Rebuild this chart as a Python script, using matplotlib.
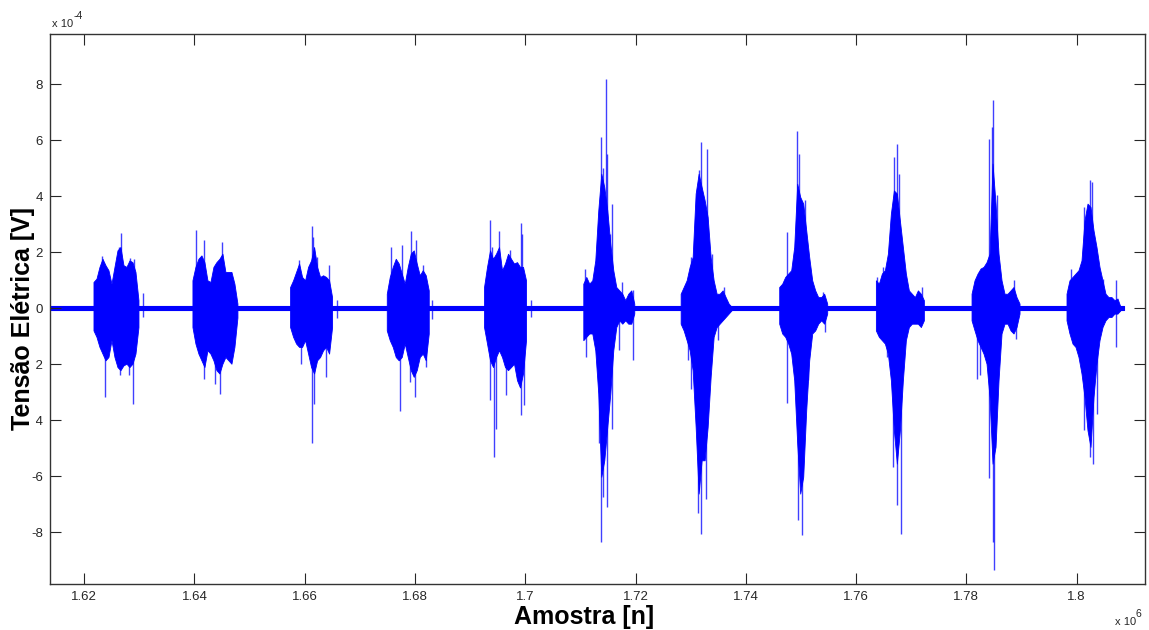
import numpy as np
import matplotlib
matplotlib.use('Agg')
import matplotlib.pyplot as plt
from matplotlib.ticker import FuncFormatter

# ── DADOS (tensão em unidades de 1e-4 V, eixo x em amostras) ──
inicio_rafaga = [1621686, 1639635, 1657348, 1674880, 1692520,
                 1710523, 1728182, 1746058, 1763590, 1780940, 1798164]
paso_env = 544          # amostras entre pontos da envoltória

env_sup = [
    [0.94, 1.06, 1.48, 1.77, 1.54, 1.36, 0.88, 1.48, 2.07, 2.19, 1.54, 1.48, 1.71, 1.65, 1.30, 0.29],
    [1.0, 1.48, 1.77, 1.89, 1.65, 1.0, 0.94, 1.48, 1.65, 1.77, 1.95, 1.30, 1.30, 1.30, 0.88, 0.17],
    [0.76, 1.0, 1.30, 1.60, 1.12, 1.0, 1.48, 1.71, 2.19, 1.48, 1.12, 1.18, 1.12, 1.0, 0.40],
    [0.52, 1.12, 1.48, 1.77, 1.60, 1.24, 0.88, 1.48, 1.95, 2.07, 1.60, 1.18, 1.36, 1.18, 0.64],
    [0.76, 1.48, 2.07, 1.77, 1.95, 2.19, 1.36, 1.60, 1.95, 1.77, 1.60, 1.65, 1.48, 1.48, 1.0],
    [0.88, 1.12, 0.88, 1.0, 1.71, 3.5, 4.81, 4.33, 3.5, 2.31, 1.36, 0.76, 0.64, 0.52, 0.29, 0.52, 0.64, 0.17],
    [0.52, 0.76, 1.0, 1.48, 1.83, 4.10, 4.81, 4.33, 3.86, 3.26, 1.83, 1.0, 0.52, 0.52, 0.64, 0.40, 0.17, 0.05],
    [0.76, 0.88, 1.12, 1.24, 1.36, 2.19, 4.45, 3.98, 3.74, 2.79, 1.83, 1.0, 0.64, 0.40, 0.40, 0.52, 0.17],
    [1.0, 0.88, 1.24, 1.36, 1.95, 3.38, 4.21, 4.10, 3.14, 2.19, 1.24, 0.64, 0.52, 0.40, 0.64, 0.52, 0.29],
    [0.52, 1.0, 1.24, 1.42, 1.48, 1.65, 1.95, 5.17, 3.74, 1.95, 1.0, 0.52, 0.52, 0.64, 0.76, 0.40, 0.17],
    [0.52, 1.0, 1.12, 1.24, 1.36, 1.71, 3.14, 3.74, 3.62, 2.79, 2.19, 1.48, 1.0, 0.52, 0.40, 0.40, 0.29, 0.35, 0.05],
]
env_inf = [
    [-0.79, -1.02, -1.38, -1.62, -1.86, -1.74, -1.14, -1.74, -2.10, -2.21, -2.04, -1.98, -2.10, -1.98, -1.62, -0.67],
    [-0.67, -1.26, -1.62, -1.86, -2.10, -1.5, -1.62, -1.86, -2.21, -2.33, -1.98, -1.74, -1.86, -1.98, -1.38, -0.33],
    [-0.67, -1.02, -1.26, -1.38, -1.38, -1.14, -1.62, -2.10, -2.33, -1.86, -1.74, -1.5, -1.38, -1.62, -0.67],
    [-0.79, -1.14, -1.38, -1.74, -1.86, -1.74, -1.26, -1.74, -2.21, -2.45, -2.21, -1.74, -1.62, -1.86, -0.90],
    [-0.67, -1.26, -1.86, -2.10, -1.74, -1.5, -1.74, -2.10, -2.21, -2.10, -1.98, -2.57, -2.83, -2.33, -1.14],
    [-1.14, -1.02, -0.90, -0.90, -1.5, -3.05, -6.02, -5.43, -4.24, -3.05, -1.5, -0.67, -0.43, -0.55, -0.43, -0.55, -0.55, -0.19],
    [-0.55, -0.79, -1.14, -1.5, -2.21, -4.24, -6.62, -5.43, -5.43, -4.24, -2.45, -1.02, -0.67, -0.55, -0.43, -0.31, -0.19, -0.07],
    [-0.55, -0.90, -1.02, -1.26, -1.62, -2.57, -4.83, -6.62, -6.02, -3.64, -1.86, -0.90, -0.79, -0.55, -0.43, -0.55, -0.19],
    [-0.79, -1.02, -1.14, -1.26, -1.62, -2.57, -4.36, -5.55, -4.36, -2.57, -1.14, -0.67, -0.55, -0.55, -0.55, -0.67, -0.43],
    [-0.43, -0.79, -1.14, -1.38, -1.62, -1.98, -3.17, -5.55, -4.95, -2.57, -0.90, -0.55, -0.55, -0.79, -0.90, -0.67, -0.19],
    [-0.43, -0.90, -1.26, -1.38, -1.74, -2.33, -3.17, -4.36, -4.95, -3.17, -1.98, -1.14, -0.67, -0.43, -0.31, -0.31, -0.19, -0.19, -0.07],
]

# picos isolados: deslocamento (amostras) a partir do início de cada rajada
pico_off = [
    [1510, 5013, 4651, 6704, 7429, 2174, 7127, 4832, 6523, 9060, 9060],
    [604, 2054, 5376, 2114, 4107, 5074],
    [3986, 4228, 4832, 7006, 1691, 3986, 4288, 6523, 1933, 8456, 8456],
    [846, 2718, 4409, 5255, 6644, 2356, 5194, 4288, 7067, 8154, 8154],
    [1027, 2658, 6644, 6946, 1510, 4711, 1752, 1087, 2174, 6644, 7308, 4047, 8456, 8456],
    [4107, 3141, 4228, 3503, 5134, 302, 4832, 7006, 8939, 3141, 3503, 4228, 2778, 5194, 483, 8939, 6523],
    [3745, 4711, 1812, 5617, 7912, 3382, 3684, 3080, 4590, 1812, 1329, 6765],
    [3262, 3624, 1389, 4590, 7973, 3382, 4168, 1389, 5255, 8275],
    [3745, 3322, 4168, 1329, 121, 8275, 3745, 4470, 3020, 1933],
    [3926, 3141, 3624, 4530, 7731, 4047, 3805, 3080, 906, 1570, 7973],
    [4228, 4651, 3201, 846, 8939, 6644, 4832, 4349, 3141, 5557, 8939, 604],
]
pico_val = [
    [1.86, 2.70, 2.19, 1.81, 1.77, -3.17, -3.43, -2.39, -2.39, 0.55, -0.30],
    [2.81, 2.45, 2.37, -2.51, -2.69, -3.07],
    [2.94, 2.55, 1.83, 1.54, 1.71, -4.83, -3.43, -2.45, -1.98, 0.30, -0.36],
    [2.19, 2.25, 2.75, 2.43, 1.54, -3.67, -3.17, -2.63, -2.10, 0.30, -0.40],
    [3.17, 2.76, 3.06, 2.67, 2.19, 2.07, -5.31, -3.29, -4.30, -3.82, -3.46, -3.10, 0.30, -0.30],
    [8.20, 6.12, 5.52, 5.0, 3.74, 1.42, 2.67, 0.94, 0.64, -8.35, -6.74, -7.10, -4.83, -4.30, -1.74, -1.86, -1.5],
    [5.94, 5.70, 1.83, 1.95, 0.76, 4.94, -8.05, -7.33, -6.80, -2.87, -1.86, -1.14],
    [6.33, 5.52, 2.73, 3.86, 0.58, -7.57, -8.10, -3.40, -2.55, -0.85],
    [5.88, 5.40, 4.81, 1.48, 1.12, 0.76, -7.04, -8.05, -5.67, -1.74],
    [7.45, 6.06, 6.48, 4.05, 1.0, -9.36, -8.35, -6.08, -2.51, -2.39, -1.08],
    [4.60, 4.50, 3.62, 1.42, 1.0, 1.06, -5.55, -5.31, -4.36, -3.76, -1.38, -0.90],
]

# ruído de fundo entre as rajadas
ruido_x = [1613800, 1808600]
ruido_amp = 0.07

xticks = [1.62e6, 1.64e6, 1.66e6, 1.68e6, 1.70e6, 1.72e6, 1.74e6, 1.76e6, 1.78e6, 1.80e6]
yticks = [-8, -6, -4, -2, 0, 2, 4, 6, 8]

# ── FIGURA ──
plt.rcParams['font.family'] = ['Liberation Sans', 'DejaVu Sans']
fig = plt.figure(figsize=(11.49, 6.30), dpi=100)
ax = fig.add_axes([50 / 1149, 1 - 584 / 630, 1095 / 1149, 550 / 630])

azul = (0, 0, 1)
ax.fill_between(ruido_x, [-ruido_amp] * 2, [ruido_amp] * 2, color=azul, lw=0.8)

for ini, sup, inf, off, val in zip(inicio_rafaga, env_sup, env_inf, pico_off, pico_val):
    xs = ini + paso_env * np.arange(len(sup))
    ax.fill_between(xs, inf, sup, color=azul, lw=0.6)
    ax.vlines(ini + np.array(off), 0, val, color=azul, lw=1.0, alpha=0.75)

ax.set_xlim(1613800, 1812400)
ax.set_ylim(-9.85, 9.8)
ax.set_xticks(xticks)
ax.set_yticks(yticks)
ax.xaxis.set_major_formatter(FuncFormatter(lambda v, p: f'{v / 1e6:g}'))
ax.yaxis.set_major_formatter(FuncFormatter(lambda v, p: f'{v:g}'))

ax.tick_params(direction='in', length=8, width=0.8, colors='#262626',
               labelsize=9.5, top=True, right=True, pad=5)
for s in ax.spines.values():
    s.set_color('#333333')
    s.set_linewidth(1.0)

ax.set_xlabel('Amostra [n]', fontsize=18, fontweight='bold')
ax.set_ylabel('Tensão Elétrica [V]', fontsize=18, fontweight='bold',
              bbox=dict(facecolor='white', edgecolor='none', pad=0.5))
ax.xaxis.set_label_coords(0.4881, -0.038)
ax.yaxis.set_label_coords(-0.0135, 0.482)

# fatores de escala no estilo MATLAB
fig.text(52 / 1149, 1 - 27 / 630, 'x 10', fontsize=8, color='#262626',
         va='baseline', ha='left')
fig.text(74 / 1149, 1 - 19 / 630, '-4', fontsize=7.5, color='#262626',
         va='baseline', ha='left')
fig.text(1115 / 1149, 1 - 625 / 630, 'x 10', fontsize=8, color='#262626',
         va='baseline', ha='left')
fig.text(1136 / 1149, 1 - 617 / 630, '6', fontsize=7.5, color='#262626',
         va='baseline', ha='left')

fig.savefig('out.png', dpi=100)
